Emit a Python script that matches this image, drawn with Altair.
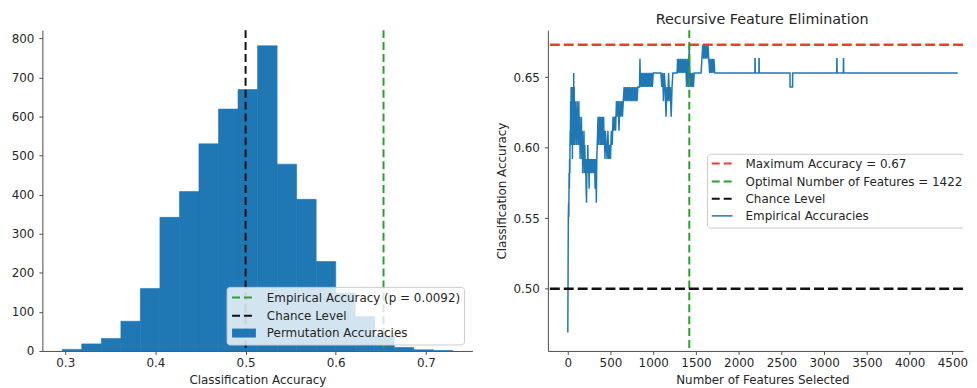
import altair as alt
import pandas as pd

FONT = "DejaVu Sans"
TEXT = "#262626"
AXIS = "#4d4d4d"
BLUE = "#1f77b4"
GREEN = "#2ca02c"
RED = "#e8402f"
BLACK = "#111111"

# ---------------- Left panel: permutation test histogram ----------------
bin_left = [0.2967, 0.3183, 0.3400, 0.3617, 0.3833, 0.4050, 0.4267, 0.4483, 0.4700, 0.4916,
            0.5133, 0.5350, 0.5566, 0.5783, 0.6000, 0.6216, 0.6433, 0.6649, 0.6866, 0.7083]
bin_right = [0.3183, 0.3400, 0.3617, 0.3833, 0.4050, 0.4267, 0.4483, 0.4700, 0.4916, 0.5133,
             0.5350, 0.5566, 0.5783, 0.6000, 0.6216, 0.6433, 0.6649, 0.6866, 0.7083, 0.7299]
counts = [4, 18, 32, 76, 160, 342, 408, 530, 619, 669, 781, 478, 388, 229, 148, 88, 38, 9, 3, 1]
empirical_accuracy = 0.653
chance_level = 0.5
left_x_ticks = [0.3, 0.4, 0.5, 0.6, 0.7]
left_y_ticks = [0, 100, 200, 300, 400, 500, 600, 700, 800]
left_legend_labels = ["Empirical Accuracy (p = 0.0092)", "Chance Level", "Permutation Accuracies"]

# ---------------- Right panel: recursive feature elimination ----------------
features = [1, 4, 7, 10, 13, 16, 19, 22, 25, 28, 31, 34, 37, 40, 43, 46, 49, 52, 55, 58,
            61, 64, 67, 70, 73, 76, 79, 82, 85, 90, 95, 100, 105, 110, 115, 120, 125, 130, 135, 140,
            145, 150, 155, 160, 165, 170, 175, 180, 185, 190, 195, 200, 205, 210, 215, 220, 225, 230, 235, 240,
            245, 250, 255, 260, 265, 270, 275, 280, 285, 290, 295, 300, 305, 310, 315, 320, 325, 330, 335, 340,
            345, 350, 355, 360, 365, 370, 375, 380, 385, 390, 395, 400, 405, 410, 415, 420, 425, 430, 435, 440,
            450, 460, 470, 480, 490, 500, 510, 520, 530, 540, 550, 560, 570, 580, 590, 600, 610, 620, 630, 640,
            650, 660, 670, 680, 690, 700, 710, 720, 730, 740, 750, 760, 770, 780, 790, 800, 810, 820, 830, 840,
            845, 850, 860, 870, 880, 890, 900, 910, 920, 930, 940, 950, 960, 970, 980, 990, 1000, 1090, 1100, 1110,
            1120, 1130, 1140, 1150, 1160, 1170, 1180, 1190, 1200, 1210, 1220, 1230, 1280, 1285, 1290, 1300, 1310, 1320, 1330, 1340,
            1350, 1360, 1370, 1380, 1390, 1400, 1410, 1422, 1430, 1440, 1450, 1460, 1470, 1480, 1560, 1570, 1580, 1590, 1600, 1610,
            1620, 1630, 1640, 1650, 1660, 1670, 1680, 1690, 1700, 1710, 1720, 2189, 2190, 2192, 2193, 2236, 2237, 2239, 2240, 2600,
            2601, 2630, 2631, 3147, 3148, 3150, 3151, 3224, 3225, 3227, 3228, 4562]
accuracies = [0.469, 0.510, 0.551, 0.561, 0.551, 0.582, 0.571, 0.592, 0.582, 0.612, 0.602, 0.633, 0.612, 0.643, 0.602, 0.643, 0.612, 0.633, 0.592, 0.643,
              0.602, 0.633, 0.612, 0.653, 0.602, 0.643, 0.612, 0.633, 0.602, 0.633, 0.612, 0.622, 0.602, 0.633, 0.612, 0.622, 0.602, 0.633, 0.602, 0.622,
              0.592, 0.612, 0.602, 0.622, 0.592, 0.612, 0.582, 0.602, 0.592, 0.612, 0.582, 0.602, 0.582, 0.592, 0.571, 0.561, 0.592, 0.582, 0.602, 0.582,
              0.592, 0.571, 0.592, 0.582, 0.592, 0.582, 0.592, 0.582, 0.592, 0.582, 0.592, 0.582, 0.592, 0.582, 0.592, 0.571, 0.592, 0.582, 0.561, 0.592,
              0.602, 0.612, 0.622, 0.602, 0.622, 0.612, 0.622, 0.602, 0.612, 0.622, 0.602, 0.612, 0.622, 0.602, 0.612, 0.622, 0.602, 0.612, 0.592, 0.612,
              0.602, 0.592, 0.612, 0.592, 0.602, 0.592, 0.612, 0.602, 0.622, 0.612, 0.622, 0.612, 0.633, 0.622, 0.633, 0.612, 0.633, 0.622, 0.633, 0.622,
              0.633, 0.643, 0.633, 0.643, 0.633, 0.643, 0.633, 0.643, 0.633, 0.643, 0.633, 0.643, 0.633, 0.643, 0.633, 0.643, 0.633, 0.643, 0.643, 0.643,
              0.663, 0.643, 0.653, 0.643, 0.653, 0.643, 0.653, 0.643, 0.653, 0.643, 0.653, 0.643, 0.653, 0.643, 0.653, 0.643, 0.653, 0.653, 0.643, 0.653,
              0.633, 0.653, 0.643, 0.622, 0.643, 0.633, 0.653, 0.633, 0.643, 0.622, 0.643, 0.653, 0.653, 0.663, 0.653, 0.663, 0.653, 0.663, 0.653, 0.663,
              0.653, 0.663, 0.653, 0.663, 0.643, 0.663, 0.643, 0.673, 0.643, 0.653, 0.643, 0.653, 0.643, 0.653, 0.653, 0.663, 0.673, 0.663, 0.673, 0.663,
              0.673, 0.663, 0.673, 0.663, 0.653, 0.663, 0.653, 0.663, 0.653, 0.663, 0.653, 0.653, 0.663, 0.663, 0.653, 0.653, 0.663, 0.663, 0.653, 0.653,
              0.643, 0.643, 0.653, 0.653, 0.663, 0.663, 0.653, 0.653, 0.663, 0.663, 0.653, 0.653]
max_accuracy = 0.673
optimal_features = 1422
right_x_ticks = [0, 500, 1000, 1500, 2000, 2500, 3000, 3500, 4000, 4500]
right_y_ticks = [0.50, 0.55, 0.60, 0.65]
right_legend_labels = ["Maximum Accuracy = 0.67", "Optimal Number of Features = 1422",
                       "Chance Level", "Empirical Accuracies"]

# ---------------- helpers ----------------
def one_row(**kw):
    return pd.DataFrame({k: [v] for k, v in kw.items()}) if kw else pd.DataFrame({"k": [0]})


def legend_box(x1, x2, y1, y2, clip=False):
    return alt.Chart(one_row()).mark_rect(
        fill="white", fillOpacity=0.8, stroke="#cccccc", strokeWidth=1, cornerRadius=3, clip=clip
    ).encode(x=alt.value(x1), x2=alt.value(x2), y=alt.value(y1), y2=alt.value(y2))


def legend_line(x1, x2, y, color, dash, width):
    props = dict(color=color, strokeWidth=width)
    if dash:
        props["strokeDash"] = dash
    return alt.Chart(one_row()).mark_rule(**props).encode(
        x=alt.value(x1), x2=alt.value(x2), y=alt.value(y))


def legend_text(x, y, label):
    return alt.Chart(one_row(label=label)).mark_text(
        align="left", baseline="middle", font=FONT, fontSize=12, color=TEXT
    ).encode(x=alt.value(x), y=alt.value(y), text="label:N")


# ---------------- left chart ----------------
LW, H = 433, 323
xL = alt.Scale(domain=[0.2746, 0.7516], nice=False, zero=False)
yL = alt.Scale(domain=[0, 821], nice=False, zero=False)
xtitleL = "Classification Accuracy"

hist_df = pd.DataFrame({"lo": bin_left, "hi": bin_right, "n": counts})
bars = alt.Chart(hist_df).mark_rect(color=BLUE, stroke=BLUE, strokeWidth=0.6).encode(
    x=alt.X("lo:Q", scale=xL, title=xtitleL,
            axis=alt.Axis(values=left_x_ticks, format=".1f")),
    x2="hi:Q",
    y=alt.Y("n:Q", scale=yL, title=None,
            axis=alt.Axis(values=left_y_ticks, format="d")),
    y2=alt.datum(0),
)
chance_rule_L = alt.Chart(pd.DataFrame({"v": [chance_level]})).mark_rule(
    color=BLACK, strokeDash=[8, 4], strokeWidth=2).encode(
    x=alt.X("v:Q", scale=xL, title=xtitleL))
emp_rule_L = alt.Chart(pd.DataFrame({"v": [empirical_accuracy]})).mark_rule(
    color=GREEN, strokeDash=[8, 4], strokeWidth=2).encode(
    x=alt.X("v:Q", scale=xL, title=xtitleL))

rowsL = [269.3, 287.5, 305.0]
left_legend = [
    legend_box(186, 425, 259, 317),
    legend_line(191, 214, rowsL[0], GREEN, [8, 4], 2),
    legend_line(191, 214, rowsL[1], BLACK, [8, 4], 2),
    alt.Chart(one_row()).mark_rect(color=BLUE).encode(
        x=alt.value(191), x2=alt.value(215), y=alt.value(rowsL[2] - 4.5), y2=alt.value(rowsL[2] + 4.5)),
    legend_text(226, rowsL[0], left_legend_labels[0]),
    legend_text(226, rowsL[1], left_legend_labels[1]),
    legend_text(226, rowsL[2], left_legend_labels[2]),
]

left = alt.layer(bars, chance_rule_L, emp_rule_L, *left_legend).properties(width=LW, height=H)

# ---------------- right chart ----------------
RW = 418
xR = alt.Scale(domain=[-232, 4624], nice=False, zero=False)
yR = alt.Scale(domain=[0.456, 0.6833], nice=False, zero=False)
ytitleR = "Classification Accuracy"
xtitleR = "Number of Features Selected"

line_df = pd.DataFrame({"f": features, "acc": accuracies})
max_rule = alt.Chart(pd.DataFrame({"v": [max_accuracy]})).mark_rule(
    color=RED, strokeDash=[10, 4], strokeWidth=2.5).encode(
    y=alt.Y("v:Q", scale=yR, title=ytitleR))
opt_rule = alt.Chart(pd.DataFrame({"v": [optimal_features]})).mark_rule(
    color=GREEN, strokeDash=[8, 4], strokeWidth=2).encode(
    x=alt.X("v:Q", scale=xR, title=xtitleR))
chance_rule_R = alt.Chart(pd.DataFrame({"v": [chance_level]})).mark_rule(
    color=BLACK, strokeDash=[10, 4], strokeWidth=2.5).encode(
    y=alt.Y("v:Q", scale=yR, title=ytitleR))
acc_line = alt.Chart(line_df).mark_line(color=BLUE, strokeWidth=1.5).encode(
    x=alt.X("f:Q", scale=xR, title=xtitleR,
            axis=alt.Axis(values=right_x_ticks, format="d", titleX=216)),
    y=alt.Y("acc:Q", scale=yR, title=ytitleR,
            axis=alt.Axis(values=right_y_ticks, format=".2f")),
)

rowsR = [134.3, 152.5, 169.8, 187.0]
right_legend = [
    legend_box(160.7, 460, 125, 199.3, clip=True),
    legend_line(165, 186, rowsR[0], RED, [8, 4], 2),
    legend_line(165, 186, rowsR[1], GREEN, [8, 4], 2),
    legend_line(165, 186, rowsR[2], BLACK, [8, 4], 2),
    legend_line(165, 186, rowsR[3], BLUE, None, 1.5),
    legend_text(199, rowsR[0], right_legend_labels[0]),
    legend_text(199, rowsR[1], right_legend_labels[1]),
    legend_text(199, rowsR[2], right_legend_labels[2]),
    legend_text(199, rowsR[3], right_legend_labels[3]),
]

right = alt.layer(acc_line, max_rule, opt_rule, chance_rule_R, *right_legend).properties(
    width=RW, height=H,
    title=alt.TitleParams("Recursive Feature Elimination", font=FONT, fontSize=14.4,
                          fontWeight="normal", color=TEXT, offset=2, dx=6.7),
)

chart = alt.hconcat(left, right, spacing=76, bounds="flush").properties(
    padding={"left": 2.6, "top": 2, "right": 0, "bottom": 0},
).configure_view(stroke="transparent").configure_axis(
    grid=False,
    domainColor=AXIS, domainWidth=1,
    tickColor=AXIS, tickSize=3.5, tickWidth=1,
    labelFont=FONT, labelFontSize=12, labelColor=TEXT,
    titleFont=FONT, titleFontSize=12, titleColor=TEXT, titleFontWeight="normal",
).configure_axisX(labelPadding=3.5, titlePadding=6).configure_axisY(labelPadding=5, titlePadding=4)

chart.save("out.html", embed_options={"renderer": "svg", "actions": False})
